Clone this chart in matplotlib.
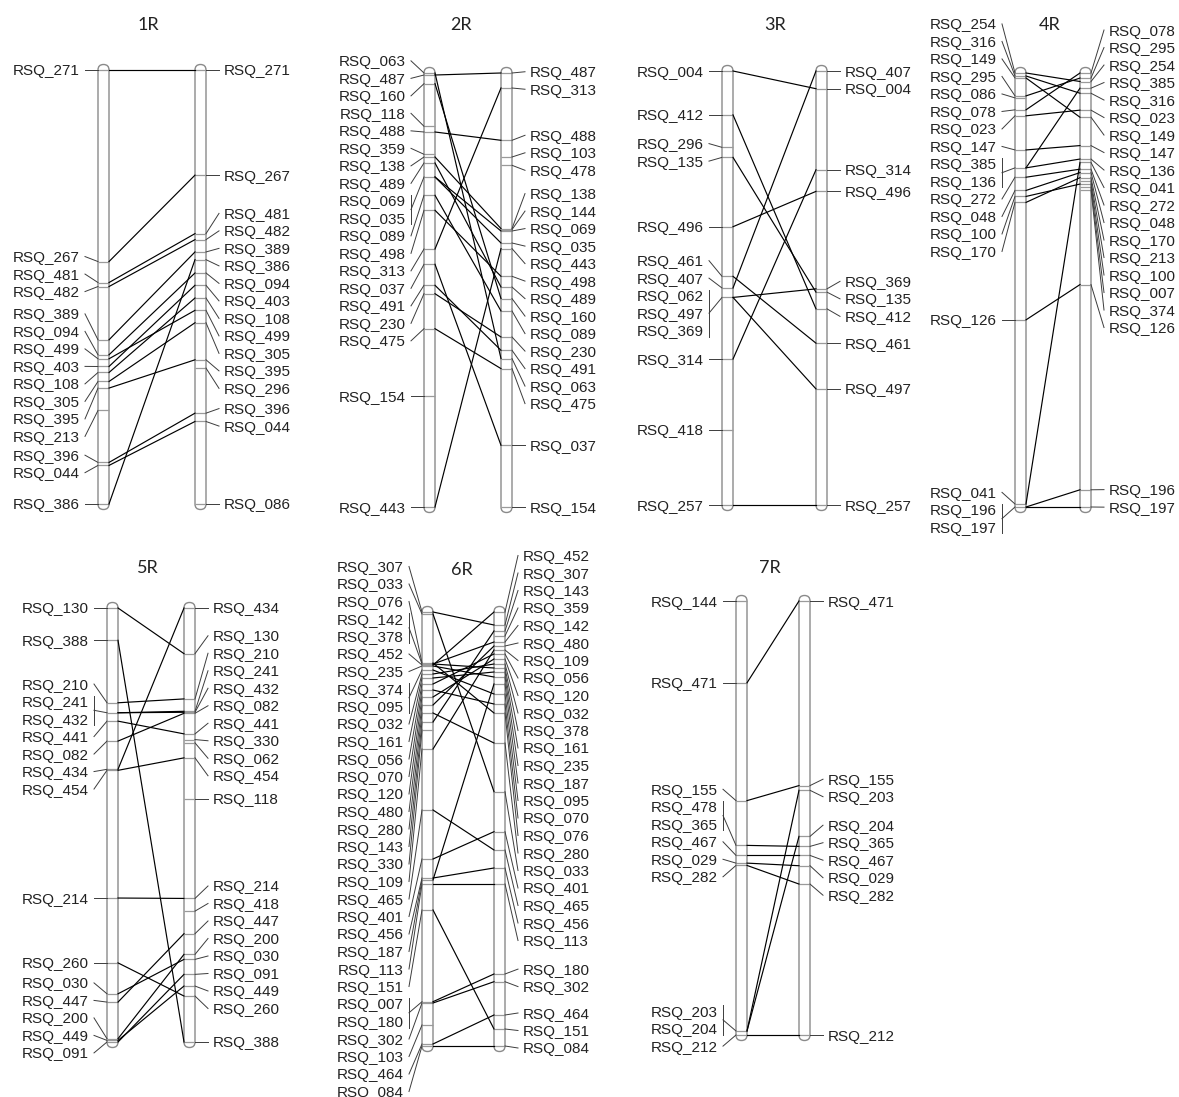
import matplotlib
matplotlib.use("Agg")
import matplotlib.pyplot as plt
from matplotlib.patches import FancyBboxPatch

plt.rcParams["font.family"] = ["Liberation Sans", "DejaVu Sans"]

# ---------------------------------------------------------------------------
# Marker positions (map units, measured from the first marker of each group)
# ---------------------------------------------------------------------------
r1_left_names = ["RSQ_271", "RSQ_267", "RSQ_481", "RSQ_482", "RSQ_389", "RSQ_094", "RSQ_499",
                 "RSQ_403", "RSQ_108", "RSQ_305", "RSQ_395", "RSQ_213", "RSQ_396", "RSQ_044",
                 "RSQ_386"]
r1_left_pos = [0, 191.7, 212.7, 216.7, 270, 285, 289, 296.7, 302.7, 311.7, 318.3, 340.7,
               392.7, 395.7, 434.3]
r1_right_names = ["RSQ_271", "RSQ_267", "RSQ_481", "RSQ_482", "RSQ_389", "RSQ_386", "RSQ_094",
                  "RSQ_403", "RSQ_108", "RSQ_499", "RSQ_305", "RSQ_395", "RSQ_296", "RSQ_396",
                  "RSQ_044", "RSQ_086"]
r1_right_pos = [0, 105, 163.4, 169.4, 181.7, 189.4, 202.7, 215, 227.7, 240, 252.4, 289.4,
                297.7, 342.7, 351, 433.4]
r1_unlinked = []

r2_left_names = ["RSQ_063", "RSQ_487", "RSQ_160", "RSQ_118", "RSQ_488", "RSQ_359", "RSQ_138",
                 "RSQ_489", "RSQ_069", "RSQ_035", "RSQ_089", "RSQ_498", "RSQ_313", "RSQ_037",
                 "RSQ_491", "RSQ_230", "RSQ_475", "RSQ_154", "RSQ_443"]
r2_left_pos = [0, 2, 10.7, 53.3, 59, 81.3, 84, 90, 104, 104, 122.3, 137.3, 176, 191.3,
               212.3, 220.7, 255.7, 323.3, 434]
r2_right_names = ["RSQ_487", "RSQ_313", "RSQ_488", "RSQ_103", "RSQ_478", "RSQ_138", "RSQ_144",
                  "RSQ_069", "RSQ_035", "RSQ_443", "RSQ_498", "RSQ_489", "RSQ_160", "RSQ_089",
                  "RSQ_230", "RSQ_491", "RSQ_063", "RSQ_475", "RSQ_037", "RSQ_154"]
r2_right_pos = [0, 15, 67.3, 84, 92.3, 155.6, 156.6, 158, 170, 175.6, 203.3, 214, 225.6,
                238, 264, 277.3, 285.6, 295.6, 372.3, 434]
r2_unlinked = ["RSQ_154"]

r3_left_names = ["RSQ_004", "RSQ_412", "RSQ_296", "RSQ_135", "RSQ_496", "RSQ_461", "RSQ_407",
                 "RSQ_062", "RSQ_497", "RSQ_369", "RSQ_314", "RSQ_418", "RSQ_257"]
r3_left_pos = [0, 43.7, 76, 86, 155, 204.4, 216, 225.4, 225.4, 225.4, 286.7, 357, 432]
r3_right_names = ["RSQ_407", "RSQ_004", "RSQ_314", "RSQ_496", "RSQ_369", "RSQ_135", "RSQ_412",
                  "RSQ_461", "RSQ_497", "RSQ_257"]
r3_right_pos = [0, 17.7, 98.7, 120.3, 217.7, 221, 237.7, 272, 317.7, 433.7]
r3_unlinked = []

r4_left_names = ["RSQ_254", "RSQ_316", "RSQ_149", "RSQ_295", "RSQ_086", "RSQ_078", "RSQ_023",
                 "RSQ_147", "RSQ_385", "RSQ_136", "RSQ_272", "RSQ_048", "RSQ_100", "RSQ_170",
                 "RSQ_126", "RSQ_041", "RSQ_196", "RSQ_197"]
r4_left_pos = [0, 3, 5, 23, 25, 37, 43, 77.3, 95.3, 95.3, 104.7, 118, 124, 130, 248, 433,
               436, 436]
r4_right_names = ["RSQ_078", "RSQ_295", "RSQ_254", "RSQ_385", "RSQ_316", "RSQ_023", "RSQ_149",
                  "RSQ_147", "RSQ_136", "RSQ_041", "RSQ_272", "RSQ_048", "RSQ_170", "RSQ_213",
                  "RSQ_100", "RSQ_007", "RSQ_374", "RSQ_126", "RSQ_196", "RSQ_197"]
r4_right_pos = [0, 5, 8.4, 15, 20, 36.7, 43.7, 71.7, 85, 88.4, 95, 98.4, 103.4, 106.7,
                109.7, 112.7, 115.7, 209, 411.7, 428.7]
r4_unlinked = []

r5_left_names = ["RSQ_130", "RSQ_388", "RSQ_210", "RSQ_241", "RSQ_432", "RSQ_441", "RSQ_082",
                 "RSQ_434", "RSQ_454", "RSQ_214", "RSQ_260", "RSQ_030", "RSQ_447", "RSQ_200",
                 "RSQ_449", "RSQ_091"]
r5_left_pos = [0, 32.4, 95, 105, 105, 113.4, 133.4, 161.7, 162.7, 290.7, 355.7, 386.7, 395,
               431.7, 433.4, 435]
r5_right_names = ["RSQ_434", "RSQ_130", "RSQ_210", "RSQ_241", "RSQ_432", "RSQ_082", "RSQ_441",
                  "RSQ_330", "RSQ_062", "RSQ_454", "RSQ_118", "RSQ_214", "RSQ_418", "RSQ_447",
                  "RSQ_200", "RSQ_030", "RSQ_091", "RSQ_449", "RSQ_260", "RSQ_388"]
r5_right_pos = [0, 45.7, 91, 103.4, 104.4, 105.4, 126, 131.7, 135, 150, 190.7, 290.7, 303.4,
                326, 346.7, 351.7, 366.7, 378.4, 388.4, 434.4]
r5_unlinked = []

r6_left_names = ["RSQ_307", "RSQ_033", "RSQ_076", "RSQ_142", "RSQ_378", "RSQ_452", "RSQ_235",
                 "RSQ_374", "RSQ_095", "RSQ_032", "RSQ_161", "RSQ_056", "RSQ_070", "RSQ_120",
                 "RSQ_480", "RSQ_280", "RSQ_143", "RSQ_330", "RSQ_109", "RSQ_465", "RSQ_401",
                 "RSQ_456", "RSQ_187", "RSQ_113", "RSQ_151", "RSQ_007", "RSQ_180", "RSQ_302",
                 "RSQ_103", "RSQ_464", "RSQ_084"]
r6_left_pos = [0, 2, 51, 52, 52, 53, 54, 58, 58, 62, 66, 72, 78, 85, 93, 101, 110, 118, 137,
               198, 247, 266, 268, 272, 298, 389.7, 389.7, 391, 413, 432, 434]
r6_right_names = ["RSQ_452", "RSQ_307", "RSQ_143", "RSQ_359", "RSQ_142", "RSQ_480", "RSQ_109",
                  "RSQ_056", "RSQ_120", "RSQ_032", "RSQ_378", "RSQ_161", "RSQ_235", "RSQ_187",
                  "RSQ_095", "RSQ_070", "RSQ_076", "RSQ_280", "RSQ_033", "RSQ_401", "RSQ_465",
                  "RSQ_456", "RSQ_113", "RSQ_180", "RSQ_302", "RSQ_464", "RSQ_151", "RSQ_084"]
r6_right_pos = [0, 13, 19, 24, 30, 34, 38, 42, 47, 52, 56, 60, 65, 72, 82, 92, 101, 131,
                179.7, 219.7, 238, 256, 272, 362, 369.7, 403, 417, 434]
r6_unlinked = []

r7_left_names = ["RSQ_144", "RSQ_471", "RSQ_155", "RSQ_478", "RSQ_365", "RSQ_467", "RSQ_029",
                 "RSQ_282", "RSQ_203", "RSQ_204", "RSQ_212"]
r7_left_pos = [0, 81.7, 199.3, 244, 244, 254, 261.7, 264, 429.3, 429.3, 433.3]
r7_right_names = ["RSQ_471", "RSQ_155", "RSQ_203", "RSQ_204", "RSQ_365", "RSQ_467", "RSQ_029",
                  "RSQ_282", "RSQ_212"]
r7_right_pos = [0, 184.3, 189, 235, 245, 254, 264.3, 282.6, 433.3]
r7_unlinked = []

group_titles = ["1R", "2R", "3R", "4R", "5R", "6R", "7R"]

# ---------------------------------------------------------------------------
# Figure layout (pixel space)
# ---------------------------------------------------------------------------
W, H = 1179, 1097
CHROM_W = 11
CHROM_LEN = 434
LABEL_STEP = 17.5
FONT = 11

panels = [
    (r1_left_names, r1_left_pos, r1_right_names, r1_right_pos, r1_unlinked, 98, 195, 70, 148, 25),
    (r2_left_names, r2_left_pos, r2_right_names, r2_right_pos, r2_unlinked, 424, 501, 73, 461, 25),
    (r3_left_names, r3_left_pos, r3_right_names, r3_right_pos, r3_unlinked, 722, 816, 71, 775, 25),
    (r4_left_names, r4_left_pos, r4_right_names, r4_right_pos, r4_unlinked, 1015, 1080, 73, 1050, 25),
    (r5_left_names, r5_left_pos, r5_right_names, r5_right_pos, r5_unlinked, 107, 184, 608, 148, 568),
    (r6_left_names, r6_left_pos, r6_right_names, r6_right_pos, r6_unlinked, 422, 494, 612, 462, 570),
    (r7_left_names, r7_left_pos, r7_right_names, r7_right_pos, r7_unlinked, 736, 799, 601, 770, 568),
]

fig = plt.figure(figsize=(W / 100, H / 100), dpi=100)
ax = fig.add_axes([0, 0, 1, 1])
ax.set_xlim(0, W)
ax.set_ylim(H, 0)
ax.axis("off")

OUTLINE = "#8a8a8a"
TICK = "#9a9a9a"
LEADER = "#3c3c3c"


def spread_labels(targets, sizes, step):
    """Place label groups with a minimum spacing, centring each crowded run
    between the displacements of its first and last members."""
    n = len(targets)
    clusters = [[i] for i in range(n)]

    def place(cl):
        offs, s = [], 0
        for i in cl:
            offs.append(s + (sizes[i] - 1) / 2)
            s += sizes[i]
        y0 = ((targets[cl[0]] - offs[0] * step) + (targets[cl[-1]] - offs[-1] * step)) / 2
        return y0, s

    changed = True
    while changed:
        changed = False
        for j in range(len(clusters) - 1):
            ya, na = place(clusters[j])
            yb, _ = place(clusters[j + 1])
            if yb < ya + na * step - 1e-6:
                clusters[j] = clusters[j] + clusters[j + 1]
                del clusters[j + 1]
                changed = True
                break

    slots = []
    for cl in clusters:
        y0, _ = place(cl)
        s = 0
        for i in cl:
            slots.append([y0 + (s + k) * step for k in range(sizes[i])])
            s += sizes[i]
    return slots


def draw_chromosome(names, pos, x0, top, side):
    span = max(pos) - min(pos)
    ys = [top + (p - min(pos)) / span * CHROM_LEN for p in pos]

    box = FancyBboxPatch((x0, top - CHROM_W / 2), CHROM_W, CHROM_LEN + CHROM_W,
                         boxstyle=f"round,pad=0,rounding_size={CHROM_W / 2}",
                         fc="white", ec=OUTLINE, lw=1.0, zorder=2)
    ax.add_patch(box)

    # group markers that share the same position
    groups = []
    for name, p, y in sorted(zip(names, pos, ys), key=lambda t: t[1]):
        if groups and abs(groups[-1][1] - p) < 1e-9:
            groups[-1][0].append(name)
        else:
            groups.append([[name], p, y])

    targets = [g[2] for g in groups]
    sizes = [len(g[0]) for g in groups]
    slots = spread_labels(targets, sizes, LABEL_STEP)

    if side == "left":
        edge = x0
        lead_x = x0 - 13
        text_x = x0 - 18
        ha = "right"
    else:
        edge = x0 + CHROM_W
        lead_x = x0 + CHROM_W + 13
        text_x = x0 + CHROM_W + 18
        ha = "left"

    yloc = {}
    for (gnames, _, y), sl in zip(groups, slots):
        ax.plot([x0, x0 + CHROM_W], [y, y], color=TICK, lw=0.9, zorder=3,
                solid_capstyle="butt")
        for nm, ly in zip(gnames, sl):
            ax.text(text_x, ly, nm, ha=ha, va="center_baseline", fontsize=FONT,
                    color="#222222", zorder=5)
            yloc[nm] = y
        if len(gnames) == 1:
            ax.plot([lead_x, edge], [sl[0], y], color=LEADER, lw=0.7, zorder=4)
        else:
            ax.plot([lead_x, lead_x], [sl[0] - 6, sl[-1] + 6], color=LEADER, lw=0.7,
                    zorder=4)
            mid = (sl[0] + sl[-1]) / 2
            ax.plot([lead_x, edge], [mid, y], color=LEADER, lw=0.7, zorder=4)
    return yloc


for title, (ln, lp, rn, rp, unlinked, xl, xr, top, tx, ty) in zip(group_titles, panels):
    left_y = draw_chromosome(ln, lp, xl, top, "left")
    right_y = draw_chromosome(rn, rp, xr, top, "right")
    for nm in ln:
        if nm in right_y and nm not in unlinked:
            ax.plot([xl + CHROM_W, xr], [left_y[nm], right_y[nm]], color="black",
                    lw=0.85, zorder=6)
    ax.text(tx, ty, title, ha="center", va="center", fontsize=13,
            family=["Lato", "DejaVu Sans"], color="#222222")

fig.savefig("out.png", dpi=100)
